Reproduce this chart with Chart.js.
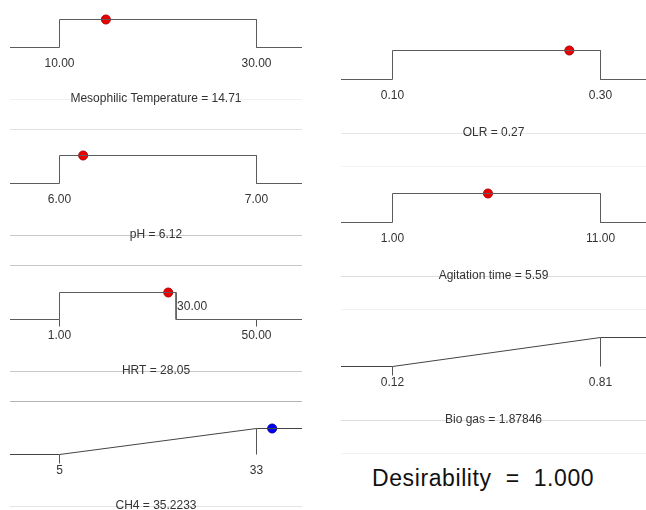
<!DOCTYPE html>
<html>
<head>
<meta charset="utf-8">
<script src="https://cdn.jsdelivr.net/npm/chart.js@4.4.1/dist/chart.umd.min.js"></script>
<style>
  html, body { margin: 0; padding: 0; background: #fff; }
  #page { position: relative; width: 646px; height: 510px; overflow: hidden; }
  canvas { position: absolute; }
  #desir {
    position: absolute; left: 372px; top: 465px;
    font: 23px "Liberation Sans", Arial, sans-serif; letter-spacing: 0.6px;
    color: #111; white-space: pre;
  }
</style>
</head>
<body>
<div id="page"></div>
<script>
// factors and responses, in drawing order (left column then right column)
const names = ['Mesophilic Temperature', 'pH', 'HRT', 'CH4', 'OLR', 'Agitation time', 'Bio gas'];
const rangeLow = [10, 6, 1, 5, 0.1, 1, 0.12];
const rangeHigh = [30, 7, 50, 33, 0.3, 11, 0.81];
const goalLow = [10, 6, 1, 5, 0.1, 1, 0.12];
const goalHigh = [30, 7, 30, 33, 0.3, 11, 0.81];
const goalType = ['range', 'range', 'range', 'maximize', 'range', 'range', 'maximize'];
const current = [14.71, 6.12, 28.05, 35.2233, 0.27, 5.59, 1.87846];
const currentText = ['14.71', '6.12', '28.05', '35.2233', '0.27', '5.59', '1.87846'];
const lowText = ['10.00', '6.00', '1.00', '5', '0.10', '1.00', '0.12'];
const highText = ['30.00', '7.00', '50.00', '33', '0.30', '11.00', '0.81'];
const goalText = [null, null, '30.00', null, null, null, null];
const desirability = '1.000';

// layout only
const cols = [
  { left: 10, width: 292, lowPx: 49.5, highPx: 246.5, titleOff: 51, ruleOff: 81 },
  { left: 341, width: 305, lowPx: 51.5, highPx: 259.5, titleOff: 53, ruleOff: 86 }
];
const panels = [
  { col: 0, top: 19, base: 47, rule1: '#f0f0f0', rule2: '#e0e0e0' },
  { col: 0, top: 155, base: 183, rule1: '#c8c8c8', rule2: '#c8c8c8' },
  { col: 0, top: 292, base: 319, rule1: '#c8c8c8', rule2: '#b4b4b4' },
  { col: 0, top: 428, base: 454, rule1: '#e4e4e4', rule2: '#e4e4e4' },
  { col: 1, top: 50, base: 79, rule1: '#e6e6e6', rule2: '#f4f4f4' },
  { col: 1, top: 193, base: 222, rule1: '#dedede', rule2: '#f2f2f2' },
  { col: 1, top: 337, base: 366, rule1: '#dedede', rule2: '#f2f2f2' }
];
const CANVAS_H = 135, ABOVE = 45;
const FONT = '12px "Liberation Sans", Arial, sans-serif';

function desirAt(i, v) {
  if (goalType[i] === 'range') return (v >= goalLow[i] && v <= goalHigh[i]) ? 1 : 0;
  return Math.max(0, Math.min(1, (v - goalLow[i]) / (goalHigh[i] - goalLow[i])));
}

const decor = {
  id: 'decor',
  afterDraw(chart) {
    const i = chart.options.plugins.decor.index;
    const p = panels[i], c = cols[p.col];
    const ctx = chart.ctx, x = chart.scales.x, y = chart.scales.y;
    const W = chart.width;
    const y0 = y.getPixelForValue(0), y1 = y.getPixelForValue(1);
    const xl = Math.round(x.getPixelForValue(rangeLow[i]) - 0.5) + 0.5;
    const xh = Math.round(x.getPixelForValue(rangeHigh[i]) - 0.5) + 0.5;
    ctx.save();
    ctx.lineWidth = 1;
    ctx.strokeStyle = '#555';
    ctx.beginPath();
    if (goalType[i] === 'maximize') {
      ctx.moveTo(xl, y0); ctx.lineTo(xl, y0 + 9);
      ctx.moveTo(xh, y1); ctx.lineTo(xh, y0);
    } else if (goalHigh[i] !== rangeHigh[i]) {
      ctx.moveTo(xl, y0); ctx.lineTo(xl, y0 + 7);
      ctx.moveTo(xh, y0); ctx.lineTo(xh, y0 + 7);
    }
    ctx.stroke();
    // rules
    const tY = y0 + c.titleOff, rY = y0 + c.ruleOff;
    ctx.strokeStyle = p.rule1;
    ctx.beginPath(); ctx.moveTo(0, Math.round(tY) + 0.5); ctx.lineTo(W, Math.round(tY) + 0.5); ctx.stroke();
    ctx.strokeStyle = p.rule2;
    ctx.beginPath(); ctx.moveTo(0, Math.round(rY) + 0.5); ctx.lineTo(W, Math.round(rY) + 0.5); ctx.stroke();
    // texts
    ctx.font = FONT;
    ctx.fillStyle = '#333';
    ctx.textAlign = 'center';
    ctx.textBaseline = 'middle';
    ctx.fillText(lowText[i], xl, y0 + 16);
    ctx.fillText(highText[i], xh, y0 + 16);
    if (goalText[i]) {
      ctx.textAlign = 'left';
      ctx.fillText(goalText[i], x.getPixelForValue(goalHigh[i]) + 1, (y0 + y1) / 2 + 1);
      ctx.textAlign = 'center';
    }
    ctx.fillText(names[i] + ' = ' + currentText[i], W / 2, tY);
    ctx.restore();
  }
};

const page = document.getElementById('page');
panels.forEach((p, i) => {
  const c = cols[p.col];
  const cv = document.createElement('canvas');
  cv.width = c.width; cv.height = CANVAS_H;
  cv.style.left = c.left + 'px';
  cv.style.top = (p.base - ABOVE) + 'px';
  page.appendChild(cv);

  const span = rangeHigh[i] - rangeLow[i];
  const a = c.lowPx / c.width, b = c.highPx / c.width;
  const xMin = rangeLow[i] - a * span / (b - a);
  const xMax = xMin + span / (b - a);

  let curve;
  if (goalType[i] === 'range') {
    curve = [
      { x: xMin, y: 0 }, { x: goalLow[i], y: 0 }, { x: goalLow[i], y: 1 },
      { x: goalHigh[i], y: 1 }, { x: goalHigh[i], y: 0 }, { x: xMax, y: 0 }
    ];
  } else {
    curve = [{ x: xMin, y: 0 }, { x: goalLow[i], y: 0 }, { x: goalHigh[i], y: 1 }, { x: xMax, y: 1 }];
  }
  const isResponse = goalType[i] === 'maximize';

  new Chart(cv, {
    type: 'line',
    data: {
      datasets: [
        { data: curve, borderColor: isResponse ? '#444' : '#5c5c5c', borderWidth: 1,
          pointRadius: 0, tension: 0, clip: false },
        { data: [{ x: current[i], y: desirAt(i, current[i]) }], showLine: false,
          pointRadius: 4.5, pointBackgroundColor: isResponse ? '#0000ee' : '#ee0000',
          pointBorderColor: isResponse ? '#0000aa' : '#aa0000', pointBorderWidth: 1, clip: false }
      ]
    },
    options: {
      responsive: false,
      animation: false,
      devicePixelRatio: 1,
      layout: {
        autoPadding: false,
        padding: { left: 0, right: 0, top: ABOVE - (p.base - p.top) + 0.5, bottom: CANVAS_H - ABOVE - 0.5 }
      },
      scales: {
        x: { type: 'linear', min: xMin, max: xMax, display: false },
        y: { min: 0, max: 1, display: false }
      },
      plugins: { legend: { display: false }, tooltip: { enabled: false }, decor: { index: i } },
      events: []
    },
    plugins: [decor]
  });
});

const d = document.createElement('div');
d.id = 'desir';
d.textContent = 'Desirability  =  ' + desirability;
page.appendChild(d);
</script>
</body>
</html>
